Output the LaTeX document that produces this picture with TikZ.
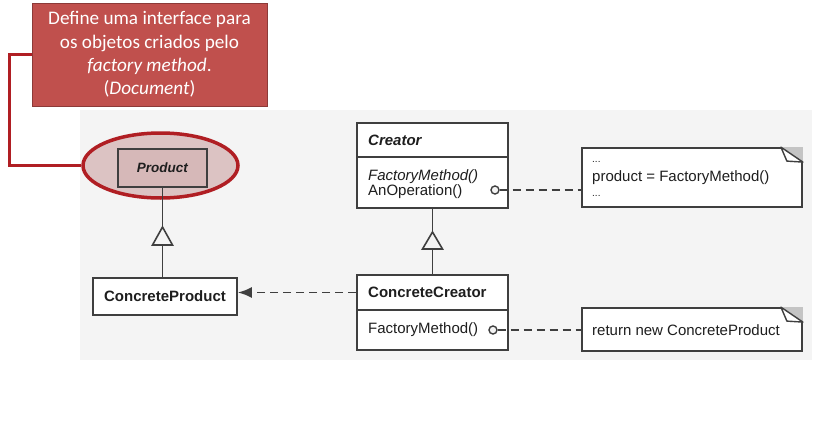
\documentclass[tikz,border=0pt]{standalone}
\usepackage{fontspec}
\setmainfont{Liberation Sans}
\newfontfamily\calfont{Carlito}
\usetikzlibrary{shapes.geometric,arrows.meta}
\definecolor{bgray}{HTML}{F4F4F4}
\definecolor{calfill}{HTML}{C0504D}
\definecolor{caldraw}{HTML}{8C3A38}
\definecolor{hlred}{HTML}{B01E23}
\definecolor{pinkfill}{HTML}{DCC3C3}
\definecolor{pinkbox}{HTML}{D6B8B8}
\definecolor{umlline}{HTML}{3F3F3F}
\definecolor{umltext}{HTML}{1E1E1E}
\definecolor{eargray}{HTML}{C4C4C4}
\tikzset{
  umlbox/.style={draw=umlline, line width=1.8pt, fill=white, inner sep=0pt, text=umltext,
    font=\fontsize{15}{15}\selectfont},
  umltxt/.style={inner sep=0pt, anchor=west, text=umltext, font=\fontsize{15}{15}\selectfont},
  dotstxt/.style={inner sep=0pt, anchor=west, text=umltext, font=\fontsize{10}{10}\selectfont},
  umlconn/.style={draw=umlline, line width=1.8pt},
  dashconn/.style={draw=umlline, line width=1.8pt, dash pattern=on 8pt off 5pt},
  inhtri/.style={draw=umlline, line width=1.6pt, fill=bgray, line join=miter},
  knob/.style={circle, draw=umlline, line width=1.4pt, fill=bgray, minimum size=8pt, inner sep=0pt},
  notebox/.style={draw=umlline, line width=1.8pt, fill=white, inner sep=0pt},
  earfold/.style={draw=umlline, line width=1.4pt, fill=white, line join=round},
}
\begin{document}
\begin{tikzpicture}[x=1pt,y=-1pt]
\useasboundingbox (0,0) rectangle (831,439);
\fill[white] (0,0) rectangle (831,439);
\fill[bgray] (80,110) rectangle (812,360);

% callout
\node[draw=caldraw, line width=1pt, fill=calfill, minimum width=235pt, minimum height=103pt,
  inner sep=0pt, align=center, text=white, font=\calfont\fontsize{19.2}{23.3}\selectfont]
  (callout) at (149.5,54.5)
  {Define uma interface para\\os objetos criados pelo\\\textit{factory method}.\\(\textit{Document})};

% highlight ellipse
\node[ellipse, draw=hlred, line width=3.5pt, fill=pinkfill, minimum width=155pt, minimum height=65pt,
  inner sep=0pt] (hl) at (160.5,165.5) {};
\draw[hlred, line width=3pt] (callout.west) -- ++(-22,0) |- (hl.west);

% Product
\node[umlbox, fill=pinkbox, minimum width=89pt, minimum height=38pt, font=\fontsize{13.5}{13.5}\selectfont]
  (product) at (162.5,168) {\textbf{\textit{Product}}};
% ConcreteProduct
\node[umlbox, minimum width=144pt, minimum height=37pt] (cproduct) at (165,296.5)
  {\textbf{ConcreteProduct}};
\draw[umlconn] (product.south) -- (product.south |- cproduct.north);
\draw[inhtri] (product.south |- 0,227) -- ++(-10,18) -- ++(20,0) -- cycle;

% Creator
\node[umlbox, minimum width=151pt, minimum height=85pt] (creator) at (432.5,165.5) {};
\draw[umlconn] (creator.west |- 0,157) -- (creator.east |- 0,157);
\node[umltxt] (crtitle) at (368,140) {\textbf{\textit{Creator}}};
\node[umltxt] (crfm) at (368,177) {\textit{FactoryMethod()}};
\node[umltxt] (crao) at (368,192) {AnOperation()};
\node[knob] (k1) at (495,190) {};

% ConcreteCreator
\node[umlbox, minimum width=151pt, minimum height=75pt] (ccreator) at (432.5,312.5) {};
\draw[umlconn] (ccreator.west |- 0,310) -- (ccreator.east |- 0,310);
\node[umltxt] (cctitle) at (368,292.5) {\textbf{ConcreteCreator}};
\node[umltxt] (ccfm) at (368,330) {FactoryMethod()};
\node[knob] (k2) at (493,330) {};

\draw[umlconn] (creator.south) -- (ccreator.north);
\draw[inhtri] (creator.south |- 0,232) -- ++(-10,17) -- ++(20,0) -- cycle;

% dashed arrow to ConcreteProduct
\draw[dashconn, -{Latex[length=14pt,width=11pt]}] (ccreator.west |- cctitle.west) -- (cproduct.east |- cctitle.west);

% notes
\node[notebox, minimum width=220pt, minimum height=59pt] (note1) at (692,177.5) {};
\node[dotstxt] (n1a) at (592,162) {...};
\node[umltxt] (n1b) at (592,178) {product = FactoryMethod()};
\node[dotstxt] (n1c) at (592,196) {...};
\fill[eargray] (note1.north east) ++(-22,0) -- (note1.north east) -- ++(0,15) -- cycle;
\draw[earfold] (note1.north east) ++(-22,0) -- ++(6,14) -- ++(16,1) -- cycle;

\node[notebox, minimum width=220pt, minimum height=43pt] (note2) at (692,329.5) {};
\node[umltxt] (n2a) at (592,330) {return new ConcreteProduct};
\fill[eargray] (note2.north east) ++(-22,0) -- (note2.north east) -- ++(0,15) -- cycle;
\draw[earfold] (note2.north east) ++(-22,0) -- ++(6,14) -- ++(16,1) -- cycle;

\draw[dashconn] (k1.east) -- (note1.west |- k1.east);
\draw[dashconn] (k2.east) -- (note2.west |- k2.east);
\end{tikzpicture}
\end{document}
